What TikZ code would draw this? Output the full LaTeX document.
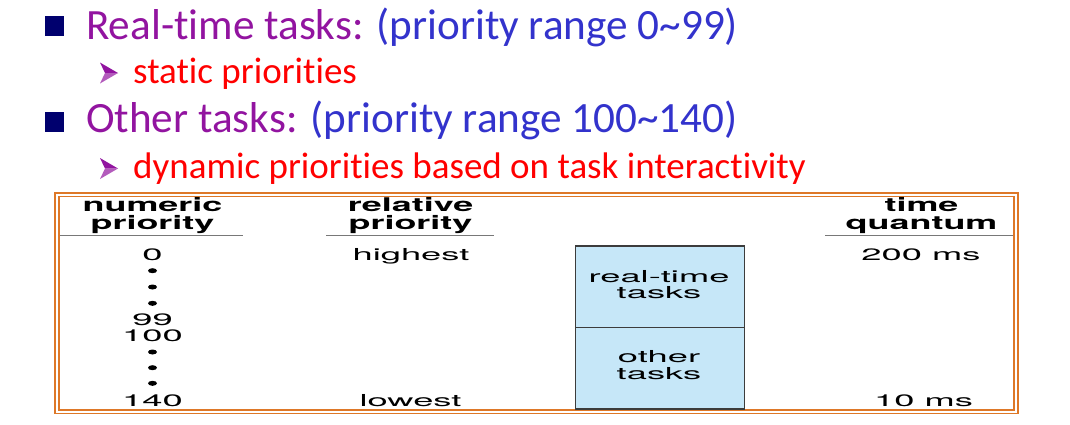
\documentclass[tikz,border=0pt]{standalone}
\usepackage{fontspec}
\usetikzlibrary{shapes.geometric}
\setmainfont[Ligatures=NoCommon, Contextuals=NoAlternate, RawFeature={-liga;-clig;-dlig}]{Carlito}
% wide sans for the table figure
\newfontfamily\figfont[FakeStretch=2.2]{TeX Gyre Heros}
\newfontfamily\headfont[FakeStretch=1.9]{TeX Gyre Heros}

\definecolor{navy}{RGB}{0,0,110}
\definecolor{purp}{RGB}{146,20,160}
\definecolor{blu}{RGB}{51,51,204}
\definecolor{redtxt}{RGB}{255,0,0}
\definecolor{frameor}{RGB}{222,120,40}
\definecolor{cellblue}{RGB}{198,231,248}
\definecolor{cellline}{RGB}{60,60,60}
\definecolor{rulegray}{RGB}{120,120,120}

\tikzset{
  lvlone/.style={anchor=base west, inner sep=0pt, font=\fontsize{43.2}{50}\selectfont},
  lvltwo/.style={anchor=base west, inner sep=0pt, text=redtxt, font=\fontsize{37}{42}\selectfont},
  sqbullet/.style={rectangle, fill=navy, inner sep=0pt, minimum width=19pt, minimum height=20pt},
  arrowbullet/.pic={
    \fill[purp] (0,0) -- (-18,-10.5) -- (-13,0) -- cycle;
    \fill[purp!70] (0,0) -- (-13,0) -- (-18,10.5) -- cycle;
  },
  % two-line texts: the node's base is the baseline of its last line
  head/.style={anchor=base, inner sep=0pt, align=center,
    font=\headfont\bfseries\fontsize{18.9}{17.4}\selectfont},
  body/.style={anchor=base, inner sep=0pt, align=center,
    font=\figfont\fontsize{16.5}{16.3}\selectfont},
  headrule/.style={draw=rulegray, line width=1pt},
  dotmark/.style={ellipse, fill=black, inner sep=0pt, minimum width=9pt, minimum height=5pt},
  cell/.style={draw=cellline, fill=cellblue, line width=1.1pt, inner sep=0pt, minimum width=168.6pt},
  frame/.style={draw=frameor, line width=1.6pt, double=white, double distance=2pt},
}

\begin{document}
\begin{tikzpicture}[x=1pt, y=-1pt]
\useasboundingbox (0,0) rectangle (1070,424);

% bullet list
\node[sqbullet] (b1) at (54.5,26) {};
\node[lvlone] (l1) at (86,39) {\textcolor{purp}{Real-time tasks:} \textcolor{blu}{(priority range 0\textasciitilde99)}};
\pic at (118,73) {arrowbullet};
\node[lvltwo] (l2) at (133,83) {static priorities};
\node[sqbullet] (b2) at (54.5,122) {};
\node[lvlone] (l3) at (86,132) {\textcolor{purp}{Other tasks:} \textcolor{blu}{(priority range 100\textasciitilde140)}};
\pic at (118,168.5) {arrowbullet};
\node[lvltwo] (l4) at (133,178) {dynamic priorities based on task interactivity};

% framed table
\fill[white] (57,194.5) rectangle (1016,411.5);
\draw[frame] (57,194.5) rectangle (1016,411.5);

% column headers
\node[head] (h1) at (152.5,229) {numeric\\priority};
\node[head] (h2) at (410.5,229) {relative\\priority};
\node[head] (h4) at (921.5,229) {time\\quantum};
\coordinate (r1l) at (60,235.3);   \coordinate (r1r) at (243.3,235.3);
\coordinate (r2l) at (326,235.3);  \coordinate (r2r) at (494.3,235.3);
\coordinate (r4l) at (825,235.3);  \coordinate (r4r) at (1013.3,235.3);
\draw[headrule] (r1l) -- (r1r);
\draw[headrule] (r2l) -- (r2r);
\draw[headrule] (r4l) -- (r4r);

% numeric priorities
\node[body] (n0) at (152.5,260) {0};
\node[dotmark] (d1) at (152.5,270.7) {};
\node[dotmark] (d2) at (152.5,287) {};
\node[dotmark] (d3) at (152.5,303.3) {};
\node[body] (n99) at (152.5,325) {99};
\node[body] (n100) at (152.5,341) {100};
\node[dotmark] (d4) at (152.5,352) {};
\node[dotmark] (d5) at (152.5,367.7) {};
\node[dotmark] (d6) at (152.5,383.3) {};
\node[body] (n140) at (152.5,406) {140};

% relative priorities
\node[body] (hi) at (411,260) {highest};
\node[body] (lo) at (410.5,406) {lowest};

% task classes
\node[cell, minimum height=81.7pt] (rtbox) at (660,286.85) {};
\node[cell, minimum height=81.3pt] (otbox) at (660,368.35) {};
\node[body] (rt) at (659,298.3) {real-time\\tasks};
\node[body] (ot) at (659,379) {other\\tasks};

% time quanta
\node[body] (q1) at (921,260) {200 ms};
\node[body] (q2) at (923.5,406) {10 ms};
\end{tikzpicture}
\end{document}
